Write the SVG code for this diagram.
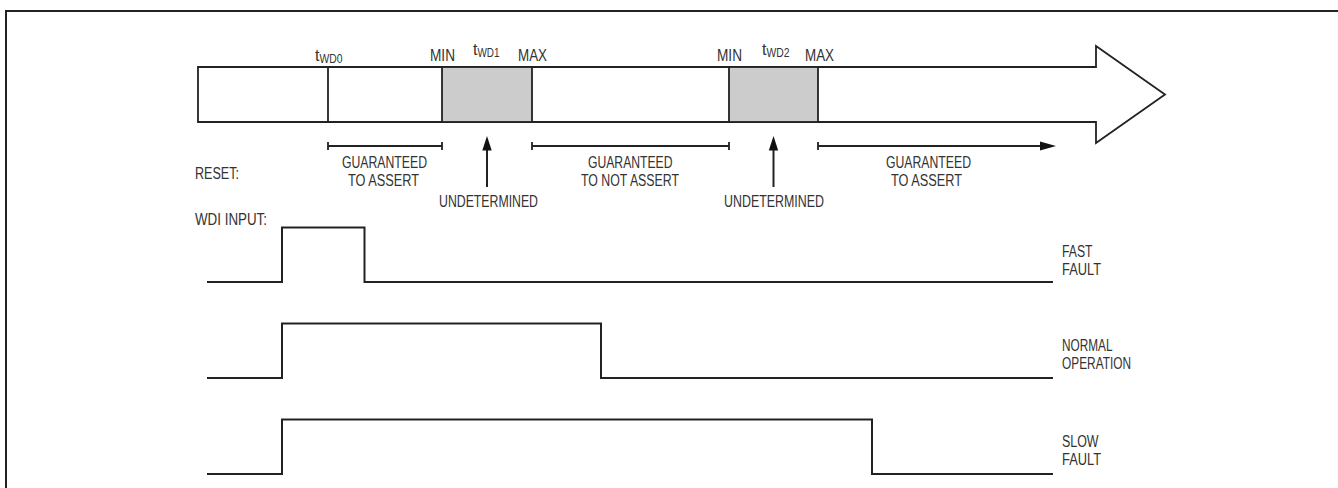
<svg xmlns="http://www.w3.org/2000/svg" width="1338" height="488" viewBox="0 0 1338 488">
<defs>
<style>
.ln{fill:none;stroke:#222;stroke-width:1.8;stroke-linejoin:miter}
.wf{fill:none;stroke:#222;stroke-width:2}
.grey{fill:#cccccc;stroke:#222;stroke-width:1.8}
.t{font-family:"Liberation Sans Narrow","Liberation Sans",Arial,sans-serif;font-size:16px;fill:#333}
.s{font-family:"Liberation Sans Narrow","Liberation Sans",Arial,sans-serif;font-size:16px;fill:#333}
.ah{fill:#111;stroke:none}
</style>
</defs>
<rect width="1338" height="488" fill="#fff"/>
<g id="frame"><path class="wf" d="M6,488 V11 H1338"/></g>

<g id="timeline">
<path class="ln" d="M198,67 H1096 V46 L1165,94.5 L1096,143 V122 H198 Z" fill="#fff"/>
<line class="ln" x1="328" y1="67" x2="328" y2="122"/>
<rect class="grey" x="442" y="67" width="90" height="55"/>
<rect class="grey" x="729" y="67" width="89" height="55"/>
</g>

<g id="top-labels">
<text class="s" x="315" y="61">t<tspan font-size="13.5" dy="1.5" textLength="23" lengthAdjust="spacingAndGlyphs">WD0</tspan></text>
<text class="s" x="430" y="61" textLength="25" lengthAdjust="spacingAndGlyphs">MIN</text>
<text class="s" x="473" y="55">t<tspan font-size="13.5" dy="1.5" textLength="22" lengthAdjust="spacingAndGlyphs">WD1</tspan></text>
<text class="s" x="518" y="61" textLength="29" lengthAdjust="spacingAndGlyphs">MAX</text>
<text class="s" x="717" y="61" textLength="25" lengthAdjust="spacingAndGlyphs">MIN</text>
<text class="s" x="762" y="55">t<tspan font-size="13.5" dy="1.5" textLength="23" lengthAdjust="spacingAndGlyphs">WD2</tspan></text>
<text class="s" x="805" y="61" textLength="29" lengthAdjust="spacingAndGlyphs">MAX</text>
</g>

<g id="connectors">
<path class="ln" stroke-width="1.4" d="M328,146 H442 M328,142 V150 M442,142 V150"/>
<path class="ln" stroke-width="1.4" d="M532,146 H729 M532,142 V150 M729,142 V150"/>
<path class="ln" stroke-width="1.4" d="M818,146 H1041 M818,142 V150"/>
<polygon class="ah" points="1040,141.5 1056,146 1040,150.5"/>
<line class="wf" x1="487" y1="149" x2="487" y2="187"/>
<polygon class="ah" points="482.3,150.5 487,136 491.7,150.5"/>
<line class="wf" x1="773.5" y1="149" x2="773.5" y2="187"/>
<polygon class="ah" points="768.8,150.5 773.5,136 778.2,150.5"/>
</g>

<g id="reset-labels">
<text class="t" x="195" y="179" textLength="44" lengthAdjust="spacingAndGlyphs">RESET:</text>
<text class="t" x="342" y="168" textLength="85" lengthAdjust="spacingAndGlyphs">GUARANTEED</text>
<text class="t" x="348" y="186" textLength="71" lengthAdjust="spacingAndGlyphs">TO ASSERT</text>
<text class="t" x="439" y="206.5" textLength="99" lengthAdjust="spacingAndGlyphs">UNDETERMINED</text>
<text class="t" x="588" y="168" textLength="84.5" lengthAdjust="spacingAndGlyphs">GUARANTEED</text>
<text class="t" x="581" y="186" textLength="98" lengthAdjust="spacingAndGlyphs">TO NOT ASSERT</text>
<text class="t" x="724" y="206.5" textLength="100" lengthAdjust="spacingAndGlyphs">UNDETERMINED</text>
<text class="t" x="886" y="168" textLength="85" lengthAdjust="spacingAndGlyphs">GUARANTEED</text>
<text class="t" x="891" y="186" textLength="71" lengthAdjust="spacingAndGlyphs">TO ASSERT</text>
</g>

<g id="wdi">
<text class="t" x="195" y="224.5" textLength="72" lengthAdjust="spacingAndGlyphs">WDI INPUT:</text>
</g>

<g id="fast-fault">
<path class="wf" d="M207,282 H282 V227.5 H364.5 V282 H1053"/>
<text class="t" x="1062" y="257" textLength="30.5" lengthAdjust="spacingAndGlyphs">FAST</text>
<text class="t" x="1062" y="274.5" textLength="39" lengthAdjust="spacingAndGlyphs">FAULT</text>
</g>

<g id="normal-operation">
<path class="wf" d="M207,378 H282 V323.5 H601 V378 H1053"/>
<text class="t" x="1062" y="351" textLength="50.5" lengthAdjust="spacingAndGlyphs">NORMAL</text>
<text class="t" x="1062" y="369" textLength="69" lengthAdjust="spacingAndGlyphs">OPERATION</text>
</g>

<g id="slow-fault">
<path class="wf" d="M207,474 H282 V419.5 H872 V474 H1053"/>
<text class="t" x="1062" y="447" textLength="36.5" lengthAdjust="spacingAndGlyphs">SLOW</text>
<text class="t" x="1062" y="465" textLength="39" lengthAdjust="spacingAndGlyphs">FAULT</text>
</g>
</svg>
